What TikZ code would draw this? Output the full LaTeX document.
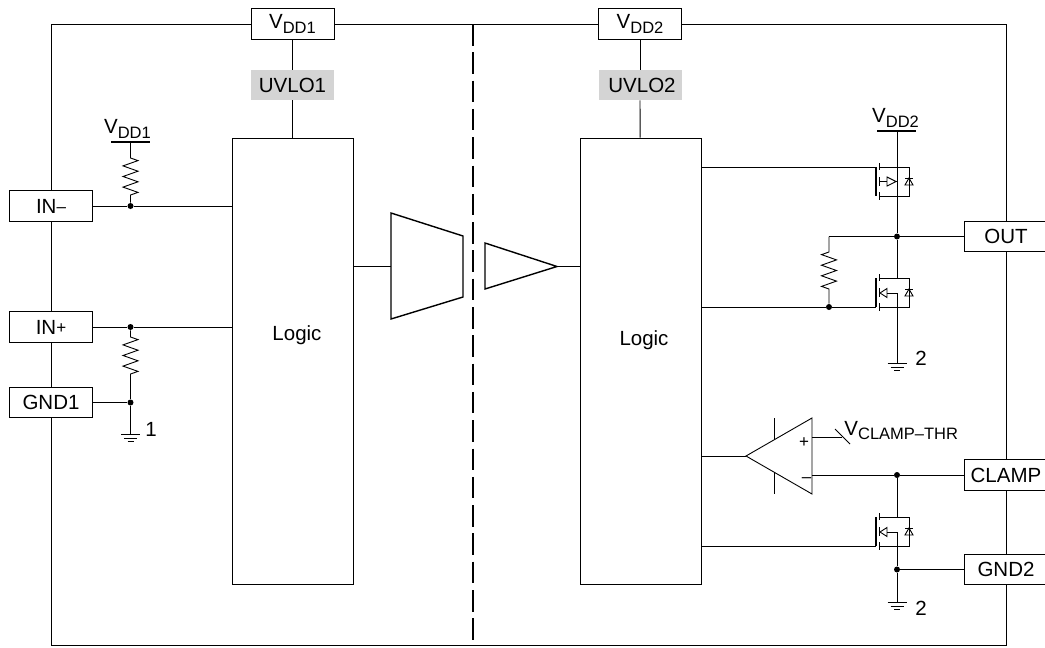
\documentclass[tikz,border=0pt]{standalone}
\usepackage{fontspec}
\setmainfont{Liberation Sans}
\newcommand{\lbl}[2]{#1\raisebox{-0.24em}{\fontsize{16.5}{16.5}\selectfont #2}}
\newcommand{\sgn}[1]{\raisebox{0.04em}{\fontsize{17}{17}\selectfont #1}}
% lead length, then 1 or -1 for the side of the first tooth
\newcommand{\resistor}[2]{ -- ++(0,#1) -- ++({#2*7.5},2.6) -- ++({-#2*15},5.3) -- ++({#2*15},5.3) -- ++({-#2*15},5.3) -- ++({#2*15},5.3) -- ++({-#2*15},5.3) -- ++({#2*15},5.3) -- ++({-#2*7.5},2.6)}
\newcommand{\groundsym}[2]{%
  \draw (#1-9.5,#2) -- (#1+9.5,#2);
  \draw (#1-6.5,#2+4) -- (#1+6.5,#2+4);
  \draw (#1-3,#2+7) -- (#1+3,#2+7);}
% y of the top of the body, then the name
\newcommand{\nfet}[2]{%
  \coordinate (#2T) at (897,#1);
  \coordinate (#2B) at (897,#1+29);
  \coordinate (#2GT) at (876,#1);
  \coordinate (#2GB) at (876,#1+29);
  \draw[line width=1.3pt] (876,#1) -- (876,#1+29);
  \draw (879,#1-4) -- (879,#1+3);
  \draw (879,#1+10) -- (879,#1+19);
  \draw (879,#1+25) -- (879,#1+33);
  \draw (879,#1) -- (909,#1) -- (909,#1+29) -- (879,#1+29);
  \draw (905,#1+11) -- (913,#1+11);
  \draw (905,#1+18) -- (913,#1+18) -- (909,#1+11) -- cycle;}
\tikzset{
  every node/.style={font=\fontsize{20.5}{20.5}\selectfont},
  pad/.style={draw, fill=white, minimum width=83pt, minimum height=30.5pt, inner sep=0pt},
  uvlo/.style={fill=black!17, minimum width=83pt, minimum height=30pt, inner sep=0pt},
  logic/.style={draw, minimum width=121pt, minimum height=446pt, inner sep=0pt},
  dot/.style={circle, fill=black, minimum size=6pt, inner sep=0pt}
}
\begin{document}
\begin{tikzpicture}[x=1pt, y=-1pt, line width=0.9pt]
  \useasboundingbox (0,0) rectangle (1045,648);
  \coordinate (TL) at (51,24);
  \coordinate (TR) at (1006,24);
  \coordinate (BL) at (51,645);
  \coordinate (BR) at (1006,645);
  \coordinate (BarrierT) at (473,24);
  \coordinate (BarrierB) at (473,645);
  \node[pad] (VDDa) at (292.5,24) {\lbl{V}{DD1}};
  \node[pad] (VDDb) at (640,24) {\raisebox{1.5pt}{\lbl{V}{DD2}}};
  \node[uvlo] (UVLOa) at (292.5,85) {UVLO1};
  \node[uvlo] (UVLOb) at (640,85) {\hspace{4pt}UVLO2};
  \node[logic] (LOGa) at (292.5,361) {};
  \node[logic] (LOGb) at (640.5,361) {};
  \node (LOGaT) at (297,335) {Logic};
  \node (LOGbT) at (644,340) {Logic};
  \node[pad] (INm) at (51,206) {IN\sgn{–}};
  \node[pad] (INp) at (51,327) {IN\sgn{+}};
  \node[pad] (GNDa) at (51,402.5) {GND1};
  \node[pad] (OUT) at (1006,236.5) {OUT};
  \node[pad] (CLAMP) at (1006,475) {CLAMP};
  \node[pad] (GNDb) at (1006,569.5) {GND2};
  % frame and barrier
  \draw (TL) -- (INm) -- (INp) -- (GNDa) -- (BL) -- (BR) -- (GNDb) -- (CLAMP) -- (OUT) -- (TR) -- (VDDb) -- (VDDa) -- (TL);
  \draw[line width=1.5pt, dash pattern=on 21.5pt off 6.8pt] (BarrierT) -- (BarrierB);
  \draw (VDDa) -- (UVLOa);
  \draw (UVLOa) -- (LOGa);
  \draw (VDDb) -- (UVLOb);
  \draw (UVLOb) -- (LOGb);
  % input side
  \node[dot] (Ja) at (130.5,206) {};
  \node[dot] (Jb) at (130.5,327) {};
  \node[dot] (Jc) at (130.5,402.5) {};
  \draw (INm) -- (Ja) -- (Ja -| LOGa.west);
  \draw (INp) -- (Jb) -- (Jb -| LOGa.west);
  \draw (GNDa) -- (Jc);
  \node (VDDaL) at (127.5,129) {\lbl{V}{DD1}};
  \coordinate (VDDaB) at (130.5,142);
  \draw[line width=1.3pt] (111,142) -- (150,142);
  \draw (VDDaB) \resistor{16}{1} -- (Ja);
  \draw (Jb) \resistor{10}{1} -- (Jc);
  \coordinate (GNDaP) at (130.5,434);
  \draw (Jc) -- (GNDaP);
  \groundsym{130.5}{434}
  \node (GNDaN) at (151,429) {1};
  % isolation
  \draw[line width=1.4pt] (391,213) -- (463,236) -- (463,297) -- (391,319) -- cycle;
  \draw[line width=1.4pt] (485,243) -- (557,266.5) -- (485,289) -- cycle;
  \coordinate (TRPin) at (391,266.5);
  \coordinate (TRIout) at (557,266.5);
  \draw (TRPin -| LOGa.east) -- (TRPin);
  \draw (TRIout) -- (TRIout -| LOGb.west);
  % upper driver
  \node (VDDbL) at (895.5,118) {\lbl{V}{DD2}};
  \coordinate (VDDbB) at (897,131);
  \draw[line width=1.3pt] (877,131) -- (916,131);
  \nfet{167}{Fa}
  \draw (VDDbB) -- (FaT);
  \draw (FaGT -| LOGb.east) -- (FaGT);
  \draw (879,181.5) -- (887,181.5);
  \draw (887,177) -- (896,181.5) -- (887,186) -- cycle;
  \draw (896,181.5) -- (897,181.5);
  \node[dot] (Jd) at (897,236.5) {};
  \draw (FaT) -- (Jd);
  \draw (Jd) -- (OUT);
  \coordinate (Rtop) at (829,236.5);
  \node[dot] (Je) at (829,307) {};
  \draw (Jd) -- (Rtop);
  \draw (Rtop) \resistor{15.5}{-1} -- (Je);
  \nfet{278}{Fb}
  \draw (Je -| LOGb.east) -- (Je) -- (FbGB);
  \draw (Jd) -- (FbT);
  \draw (887,288.5) -- (880,293) -- (887,297.5) -- cycle;
  \draw (879,293) -- (880,293);
  \coordinate (GNDbP) at (897,363);
  \draw (887,293) -- (897,293) -- (GNDbP);
  \groundsym{897}{363}
  \node (GNDbN) at (921,358) {2};
  % clamp
  \node[dot] (Jf) at (897,475) {};
  \node[dot] (Jg) at (897,569.5) {};
  \draw (Jf) -- (CLAMP);
  \draw (Jg) -- (GNDb);
  \draw (812,418) -- (746,456) -- (812,494) -- cycle;
  \draw (774,418) -- (774,440);
  \draw (774,472) -- (774,494);
  \coordinate (CMPo) at (746,456);
  \coordinate (CMPpI) at (812,437);
  \coordinate (CMPmI) at (812,475);
  \coordinate (Vthr) at (842,437);
  \draw (CMPo -| LOGb.east) -- (CMPo);
  \node[font=\fontsize{17}{17}\selectfont] (CMPp) at (804,443) {+};
  \node[font=\fontsize{17}{17}\selectfont] (CMPm) at (806.5,480) {–};
  \draw (CMPpI) -- (Vthr);
  \draw (835,429) -- (850,444);
  \node[anchor=base west, inner sep=0pt] (VCL) at (844,435) {\lbl{V}{CLAMP\raisebox{0.05em}{–}THR}};
  \draw (CMPmI) -- (Jf);
  \nfet{517}{Fc}
  \draw (Jf) -- (FcT);
  \draw (FcGB -| LOGb.east) -- (FcGB);
  \draw (887,527.5) -- (880,532) -- (887,536.5) -- cycle;
  \draw (879,532) -- (880,532);
  \draw (887,532) -- (897,532) -- (Jg);
  \coordinate (GNDcP) at (897,602);
  \draw (Jg) -- (GNDcP);
  \groundsym{897}{602}
  \node (GNDcN) at (921,608) {2};
\end{tikzpicture}
\end{document}
